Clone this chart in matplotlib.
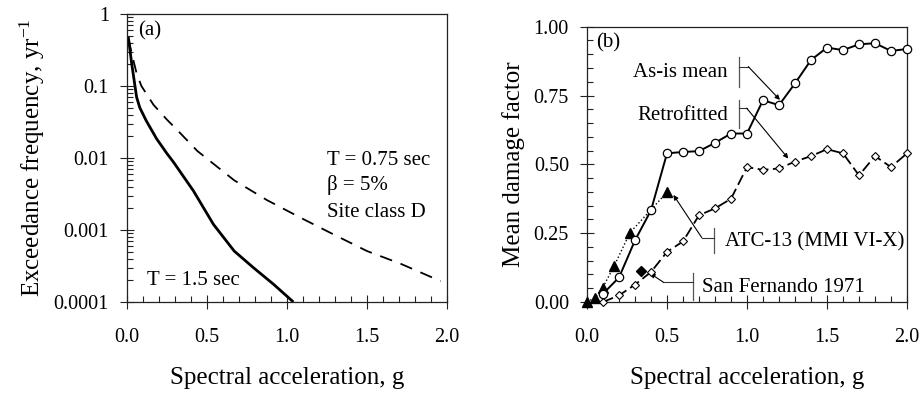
import matplotlib
matplotlib.use("Agg")
import matplotlib.pyplot as plt
from matplotlib.ticker import MultipleLocator, LogLocator, NullFormatter, FixedLocator, FixedFormatter, FormatStrFormatter

plt.rcParams['font.family'] = ['Liberation Serif', 'DejaVu Serif']
plt.rcParams['mathtext.fontset'] = 'custom'
plt.rcParams['mathtext.rm'] = 'Liberation Serif'
plt.rcParams['mathtext.it'] = 'Liberation Serif:italic'

# ---- Panel (a): hazard curves ----
sa_t15 = [0.008, 0.03, 0.06, 0.08, 0.12, 0.185, 0.25, 0.29, 0.415, 0.54, 0.67, 0.79, 0.915, 1.04]
freq_t15 = [0.48, 0.2, 0.07, 0.05, 0.033, 0.0185, 0.0115, 0.0088, 0.0035, 0.0012, 0.00051, 0.0003, 0.000177, 0.0001]

sa_t075 = [0.01, 0.03, 0.06, 0.09, 0.165, 0.25, 0.31, 0.44, 0.67, 0.875, 1.08, 1.29, 1.5, 1.71, 1.96]
freq_t075 = [0.45, 0.28, 0.15, 0.10, 0.055, 0.034, 0.025, 0.0125, 0.0049, 0.0026, 0.0015, 0.00087, 0.00051, 0.00034, 0.000195]

# ---- Panel (b): damage factors ----
sa_b = [0.1, 0.2, 0.3, 0.4, 0.5, 0.6, 0.7, 0.8, 0.9, 1.0,
        1.1, 1.2, 1.3, 1.4, 1.5, 1.6, 1.7, 1.8, 1.9, 2.0]
asis_mean = [0.03, 0.089, 0.224, 0.333, 0.54, 0.545, 0.548, 0.578, 0.612, 0.612,
             0.733, 0.715, 0.794, 0.879, 0.924, 0.915, 0.936, 0.94, 0.912, 0.919]
retrofitted = [0.0, 0.024, 0.063, 0.109, 0.182, 0.22, 0.315, 0.34, 0.375, 0.49,
               0.48, 0.485, 0.51, 0.53, 0.555, 0.54, 0.46, 0.53, 0.49, 0.54]
atc_sa = [0.0, 0.05, 0.098, 0.169, 0.269, 0.502]
atc_mdf = [0.0, 0.016, 0.052, 0.13, 0.252, 0.40]
sf_sa = [0.3375]
sf_mdf = [0.113]

fig = plt.figure(figsize=(9.21, 3.96), dpi=100)
H = 396.0; W = 921.0
axa = fig.add_axes([127/W, 1-302/H, 320/W, 288/H])
axb = fig.add_axes([587/W, 1-302/H, 320/W, 275.3/H])

tick_fs = 14.5
txt_fs = 15
lab_fs = 18

for ax in (axa, axb):
    for s in ax.spines.values():
        s.set_linewidth(0.9)
        s.set_color('#222222')
    ax.tick_params(which='major', direction='inout', length=10, width=0.8, colors='#222222', labelsize=tick_fs, labelcolor='black')
    ax.tick_params(which='minor', direction='in', length=4, width=0.8, colors='#222222')
    ax.tick_params(axis='x', which='major', pad=14)
    ax.tick_params(axis='y', which='major', pad=8)

# Panel a
axa.plot(sa_t15, freq_t15, color='black', lw=2.0, solid_capstyle='butt')
axa.plot(sa_t075, freq_t075, color='black', lw=1.3, dashes=(7, 5))
axa.set_yscale('log')
axa.set_xlim(0, 2.0)
axa.set_ylim(0.0001, 1)
axa.xaxis.set_major_locator(MultipleLocator(0.5))
axa.xaxis.set_minor_locator(MultipleLocator(0.1))
axa.xaxis.set_major_formatter(FormatStrFormatter('%.1f'))
ymaj = [0.0001, 0.001, 0.01, 0.1, 1]
axa.yaxis.set_major_locator(FixedLocator(ymaj))
axa.yaxis.set_major_formatter(FixedFormatter(['0.0001', '0.001', '0.01', '0.1', '1']))
axa.yaxis.set_minor_locator(LogLocator(base=10, subs=range(2, 10), numticks=20))
axa.yaxis.set_minor_formatter(NullFormatter())
axa.set_xlabel('Spectral acceleration, g', fontsize=lab_fs, labelpad=14)
axa.set_ylabel(r'Exceedance frequency, yr$^{\mathregular{-1}}$', fontsize=lab_fs, labelpad=5)
axa.text(0.035, 0.94, '(a)', transform=axa.transAxes, fontsize=txt_fs, va='center', ha='left')
axa.text(0.625, 0.493, 'T = 0.75 sec', transform=axa.transAxes, fontsize=txt_fs, va='center')
axa.text(0.625, 0.406, 'β = 5%', transform=axa.transAxes, fontsize=txt_fs, va='center')
axa.text(0.625, 0.312, 'Site class D', transform=axa.transAxes, fontsize=txt_fs, va='center')
axa.text(0.0625, 0.076, 'T = 1.5 sec', transform=axa.transAxes, fontsize=txt_fs, va='center')

# Panel b
axb.plot(atc_sa, atc_mdf, color='black', lw=1.0, ls=':', marker='^', ms=6.5,
         mfc='black', mec='black', clip_on=False, zorder=3)
axb.plot(sa_b, retrofitted, color='black', lw=1.3, dashes=(6, 2.5), marker='D', ms=4,
         mfc='white', mec='black', mew=0.8, clip_on=False, zorder=4)
axb.plot(sa_b, asis_mean, color='black', lw=1.4, marker='o', ms=6,
         mfc='white', mec='black', mew=0.9, clip_on=False, zorder=5)
axb.plot(sf_sa, sf_mdf, ls='none', marker='D', ms=5, mfc='black', mec='black', zorder=5)
axb.set_xlim(0, 2.0)
axb.set_ylim(0, 1.0)
axb.xaxis.set_major_locator(MultipleLocator(0.5))
axb.xaxis.set_minor_locator(MultipleLocator(0.1))
axb.xaxis.set_major_formatter(FormatStrFormatter('%.1f'))
axb.yaxis.set_major_locator(MultipleLocator(0.25))
axb.yaxis.set_minor_locator(MultipleLocator(0.05))
axb.yaxis.set_major_formatter(FormatStrFormatter('%.2f'))
axb.set_xlabel('Spectral acceleration, g', fontsize=lab_fs, labelpad=14)
axb.set_ylabel('Mean damage factor', fontsize=lab_fs, labelpad=6)
axb.text(0.03, 0.94, '(b)', transform=axb.transAxes, fontsize=txt_fs, va='center', ha='left')

def callout(ax, text, tx, ty, ha, vx, vy0, vy1, hy, hx, px, py):
    ax.text(tx, ty, text, fontsize=txt_fs, ha=ha, va='center')
    ax.plot([vx, vx], [vy0, vy1], color='#555555', lw=0.9, clip_on=False)
    ax.plot([vx, hx], [hy, hy], color='#333333', lw=0.8, clip_on=False)
    ax.annotate('', xy=(px, py), xytext=(hx, hy),
                arrowprops=dict(arrowstyle='-|>', color='black', lw=0.8,
                                mutation_scale=7, shrinkA=0, shrinkB=0))

callout(axb, 'As-is mean', 0.88, 0.835, 'right', 0.952, 0.782, 0.891, 0.855, 1.008, 1.206, 0.734)
callout(axb, 'Retrofitted', 0.88, 0.679, 'right', 0.952, 0.631, 0.734, 0.704, 0.998, 1.258, 0.521)
callout(axb, 'ATC-13 (MMI VI-X)', 0.8625, 0.219, 'left', 0.794, 0.177, 0.268, 0.234, 0.717, 0.54, 0.389)
callout(axb, 'San Fernando 1971', 0.72, 0.054, 'left', 0.665, 0.007, 0.104, 0.072, 0.477, 0.394, 0.104)

fig.savefig('out.png', dpi=100)
